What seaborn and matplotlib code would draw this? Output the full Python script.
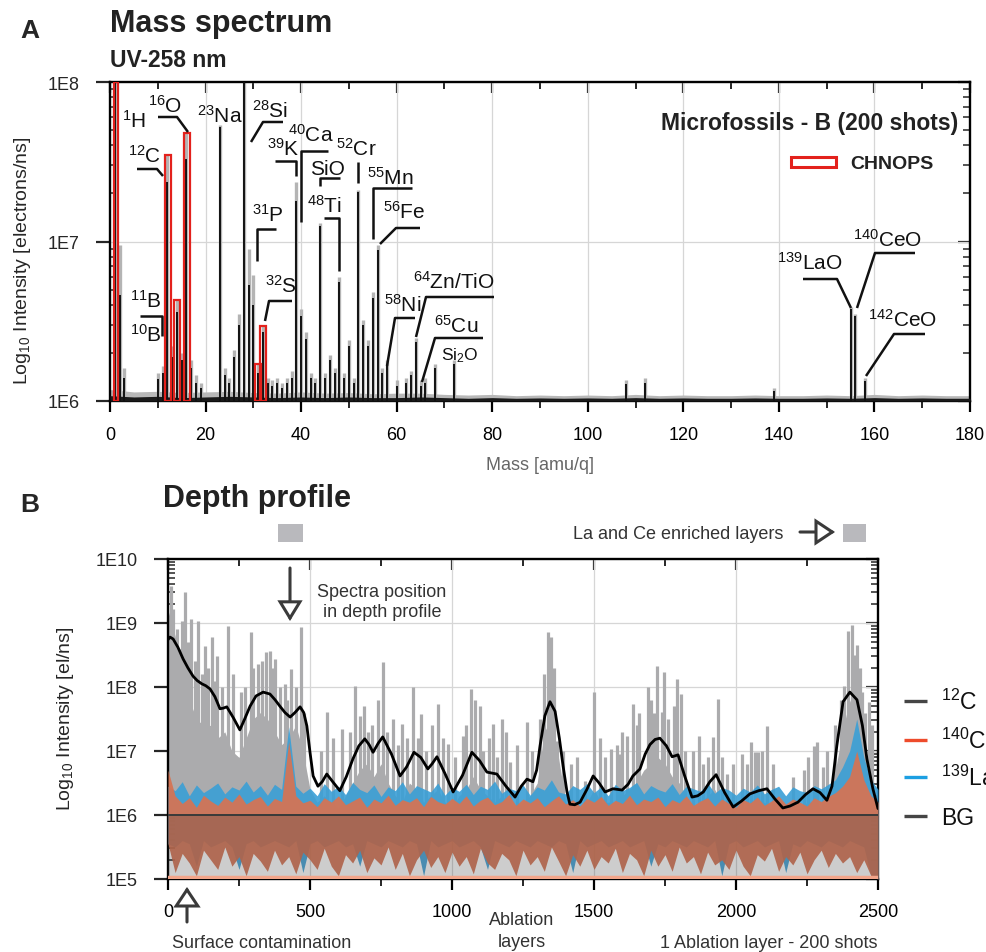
import numpy as np
import pandas as pd
import matplotlib
matplotlib.use("Agg")
import matplotlib.pyplot as plt
import seaborn as sns
from matplotlib.transforms import Affine2D
from matplotlib.lines import Line2D
from matplotlib.patches import Rectangle, FancyArrowPatch, ArrowStyle
from matplotlib.ticker import MultipleLocator, FixedLocator, LogLocator, NullFormatter

# ---------------- DATA : mass spectrum (panel A) ----------------
peak_mass = [1, 2, 3, 10, 11, 12, 13, 14, 15, 16, 17, 18, 19, 23, 24, 25, 26, 27, 28, 29,
             30, 31, 32, 33, 34, 35, 36, 37, 38, 39, 40, 41, 42, 43, 44, 45, 46, 47, 48, 49,
             50, 51, 52, 53, 54, 55, 56, 57, 58, 60, 62, 63, 64, 65, 66, 68, 72, 108, 112, 139,
             155, 156, 158]
peak_black = [1.2e8, 4.6e6, 1.4e6, 1.38e6, 1.5e6, 2.35e7, 1.9e6, 3.6e6, 1.8e6, 3.3e7,
              1.6e6, 1.3e6, 1.2e6, 5.2e7, 1.45e6, 1.3e6, 1.9e6, 3.0e6, 1.2e8, 5.3e6,
              4.0e6, 1.5e6, 2.7e6, 1.3e6, 1.25e6, 1.3e6, 1.2e6, 1.3e6, 1.4e6, 1.8e7,
              3.4e6, 2.45e6, 1.4e6, 1.3e6, 1.25e7, 1.4e6, 1.8e6, 1.5e6, 5.6e6, 1.4e6,
              2.2e6, 1.3e6, 2.05e7, 3.0e6, 2.2e6, 4.4e6, 8.9e6, 1.5e6, 1.7e6, 1.25e6,
              1.3e6, 1.45e6, 2.35e6, 1.25e6, 1.3e6, 1.6e6, 1.7e6, 1.28e6, 1.3e6, 1.15e6,
              3.8e6, 3.4e6, 1.33e6]
peak_gray = [1.2e8, 9.5e6, 1.6e6, 1.5e6, 1.65e6, 3.5e7, 2.2e6, 4.3e6, 2.0e6, 4.8e7,
             1.8e6, 1.45e6, 1.3e6, 5.4e7, 1.6e6, 1.4e6, 2.1e6, 3.5e6, 1.2e8, 9.0e6,
             6.2e6, 1.7e6, 2.95e6, 1.4e6, 1.35e6, 1.4e6, 1.3e6, 1.4e6, 1.55e6, 2.35e7,
             3.8e6, 2.7e6, 1.5e6, 1.4e6, 1.3e7, 1.5e6, 1.95e6, 1.6e6, 6.0e6, 1.5e6,
             2.4e6, 1.4e6, 2.1e7, 3.2e6, 2.4e6, 4.8e6, 9.5e6, 1.6e6, 1.8e6, 1.35e6,
             1.4e6, 1.55e6, 2.5e6, 1.35e6, 1.4e6, 1.7e6, 1.8e6, 1.35e6, 1.4e6, 1.2e6,
             3.9e6, 3.5e6, 1.4e6]
chnops_mass = [1.2, 12.1, 14.0, 16.1, 31.0, 32.1]
chnops_top = [1.0e8, 3.5e7, 4.3e6, 4.8e7, 1.7e6, 2.95e6]
chnops_width = [0.9, 1.25, 1.25, 1.25, 1.25, 1.25]
baseline_mass = [0, 5, 10, 15, 20, 25, 30, 35, 40, 45, 50, 55, 60, 65, 70, 75, 80, 85, 90, 95,
                 100, 105, 110, 115, 120, 125, 130, 135, 140, 145, 150, 155, 160, 165, 170, 175, 180]
baseline_black = [1.08e6, 1.06e6, 1.07e6, 1.05e6, 1.06e6, 1.07e6, 1.06e6, 1.05e6, 1.06e6, 1.05e6,
                  1.06e6, 1.05e6, 1.05e6, 1.06e6, 1.05e6, 1.04e6, 1.05e6, 1.04e6, 1.045e6, 1.04e6,
                  1.045e6, 1.04e6, 1.05e6, 1.04e6, 1.045e6, 1.04e6, 1.04e6, 1.045e6, 1.04e6, 1.04e6,
                  1.045e6, 1.04e6, 1.05e6, 1.04e6, 1.045e6, 1.04e6, 1.04e6]
baseline_gray = [1.18e6, 1.14e6, 1.15e6, 1.13e6, 1.14e6, 1.15e6, 1.13e6, 1.12e6, 1.14e6, 1.12e6,
                 1.13e6, 1.11e6, 1.12e6, 1.12e6, 1.1e6, 1.09e6, 1.1e6, 1.08e6, 1.09e6, 1.08e6,
                 1.09e6, 1.08e6, 1.1e6, 1.08e6, 1.09e6, 1.08e6, 1.08e6, 1.09e6, 1.08e6, 1.08e6,
                 1.09e6, 1.08e6, 1.1e6, 1.08e6, 1.09e6, 1.08e6, 1.08e6]

# ---------------- DATA : depth profile (panel B) ----------------
layer_grid = list(range(0, 2501, 25))
c12_base_log = [9.2, 8.8, 8.2, 7.8, 7.5, 7.4, 7.4, 7.2, 7.3, 7.0, 6.9, 7.2, 7.5, 7.6, 7.5, 7.3, 7.1, 7.2, 7.4, 7.0,
                6.4, 6.2, 6.3, 6.2, 6.1, 6.3, 6.5, 6.7, 6.8, 6.6, 6.8, 6.5, 6.3, 6.2, 6.5, 6.4, 6.2, 6.3, 6.4, 6.2,
                6.1, 6.3, 6.4, 6.6, 6.4, 6.3, 6.2, 6.3, 6.2, 6.1, 6.2, 6.3, 6.5, 7.3, 7.5, 6.9, 6.2, 6.1, 6.1, 6.2,
                6.4, 6.2, 6.2, 6.2, 6.3, 6.4, 6.5, 6.7, 6.8, 6.9, 6.8, 6.6, 6.5, 6.3, 6.1, 6.2, 6.3, 6.4, 6.2, 6.0,
                6.0, 6.1, 6.2, 6.2, 6.2, 6.1, 6.0, 6.0, 6.1, 6.1, 6.2, 6.2, 6.1, 6.2, 6.7, 7.3, 7.8, 7.5, 6.9, 6.4,
                6.1]
ce_top_log = [6.70, 6.30, 6.18, 6.27, 6.12, 6.31, 6.22, 6.15, 6.28, 6.20, 6.33, 6.17, 6.24, 6.29, 6.14, 6.26, 6.21, 7.15, 6.30, 6.19,
              6.23, 6.13, 6.27, 6.20, 6.30, 6.16, 6.22, 6.28, 6.12, 6.25, 6.19, 6.31, 6.15, 6.24, 6.20, 6.27, 6.13, 6.29, 6.21, 6.17,
              6.26, 6.18, 6.30, 6.14, 6.23, 6.28, 6.16, 6.21, 6.32, 6.15, 6.25, 6.19, 6.27, 6.13, 6.22, 6.30, 6.17, 6.24, 6.14, 6.26,
              6.20, 6.29, 6.15, 6.23, 6.18, 6.31, 6.16, 6.25, 6.21, 6.28, 6.13, 6.24, 6.19, 6.30, 6.15, 6.22, 6.27, 6.14, 6.25, 6.18,
              6.12, 6.24, 6.19, 6.28, 6.15, 6.22, 6.30, 6.17, 6.25, 6.20, 6.14, 6.27, 6.21, 6.29, 6.35, 6.45, 6.60, 7.00, 6.55, 6.30,
              6.20]
ce_bottom_log = [5.55, 5.10, 5.40, 5.25, 5.05, 5.45, 5.30, 5.15, 5.50, 5.20, 5.35, 5.05, 5.40, 5.28, 5.12, 5.45, 5.22, 5.35, 5.08, 5.42,
                 5.30, 5.15, 5.48, 5.20, 5.05, 5.38, 5.25, 5.45, 5.10, 5.33, 5.22, 5.50, 5.15, 5.40, 5.05, 5.30, 5.45, 5.18, 5.35, 5.10,
                 5.42, 5.20, 5.35, 5.08, 5.48, 5.25, 5.15, 5.40, 5.30, 5.05, 5.45, 5.22, 5.35, 5.12, 5.50, 5.28, 5.05, 5.38, 5.20, 5.45,
                 5.15, 5.35, 5.25, 5.48, 5.10, 5.40, 5.30, 5.05, 5.45, 5.20, 5.38, 5.12, 5.50, 5.25, 5.35, 5.08, 5.42, 5.22, 5.30, 5.15,
                 5.45, 5.20, 5.05, 5.38, 5.28, 5.48, 5.12, 5.35, 5.22, 5.42, 5.08, 5.30, 5.45, 5.18, 5.40, 5.25, 5.35, 5.10, 5.30, 5.05,
                 5.00]
la_top_log = [6.45, 6.38, 6.52, 6.30, 6.47, 6.35, 6.42, 6.50, 6.33, 6.44, 6.39, 6.53, 6.36, 6.46, 6.31, 6.48, 6.40, 7.38, 6.45, 6.34,
              6.42, 6.30, 6.49, 6.37, 6.45, 6.32, 6.51, 6.40, 6.35, 6.47, 6.29, 6.44, 6.38, 6.52, 6.33, 6.46, 6.41, 6.36, 6.50, 6.31,
              6.43, 6.37, 6.48, 6.32, 6.45, 6.40, 6.53, 6.34, 6.42, 6.38, 6.47, 6.31, 6.44, 6.39, 6.55, 6.36, 6.33, 6.46, 6.40, 6.49,
              6.35, 6.44, 6.30, 6.48, 6.38, 6.43, 6.51, 6.33, 6.46, 6.40, 6.36, 6.49, 6.32, 6.45, 6.41, 6.37, 6.50, 6.34, 6.43, 6.39,
              6.31, 6.42, 6.36, 6.47, 6.33, 6.40, 6.45, 6.30, 6.44, 6.38, 6.35, 6.46, 6.41, 6.48, 6.55, 6.75, 7.00, 7.50, 6.90, 6.55,
              6.40]
la_bottom_log = [5.55, 5.50, 5.60, 5.55, 5.20, 5.60, 5.50, 5.55, 5.60, 5.50, 5.15, 5.55, 5.60, 5.50, 5.55, 5.60, 5.55, 5.50, 5.60, 5.10,
                 5.55, 5.60, 5.50, 5.55, 5.60, 5.50, 5.55, 5.20, 5.60, 5.55, 5.50, 5.60, 5.55, 5.50, 5.60, 5.55, 5.05, 5.60, 5.50, 5.55,
                 5.60, 5.50, 5.55, 5.60, 5.50, 5.15, 5.60, 5.55, 5.50, 5.60, 5.55, 5.50, 5.60, 5.55, 5.50, 5.60, 5.55, 5.10, 5.60, 5.50,
                 5.55, 5.60, 5.50, 5.55, 5.60, 5.50, 5.55, 5.60, 5.20, 5.55, 5.50, 5.60, 5.55, 5.50, 5.60, 5.55, 5.50, 5.60, 5.05, 5.55,
                 5.60, 5.50, 5.55, 5.60, 5.50, 5.55, 5.60, 5.10, 5.55, 5.50, 5.60, 5.55, 5.50, 5.60, 5.55, 5.50, 5.60, 5.55, 5.50, 5.05,
                 5.00]
spike_layer = [11, 18, 30, 40, 49, 60, 70, 81, 95, 106, 120, 130, 140, 155, 165, 173, 190, 211, 230, 257,
               270, 292, 300, 317, 330, 345, 359, 365, 377, 395, 412, 420, 433, 450, 468, 480, 540, 559, 580, 612,
               640, 658, 676, 690, 704, 720, 740, 757, 770, 792, 810, 824, 840, 862, 880, 890, 910, 930, 951, 970,
               986, 1010, 1039, 1050, 1067, 1080, 1099, 1110, 1130, 1144, 1160, 1176, 1190, 1204, 1230, 1264, 1280, 1310, 1325, 1338,
               1348, 1360, 1370, 1390, 1420, 1440, 1468, 1500, 1520, 1540, 1560, 1580, 1592, 1600, 1616, 1637, 1650, 1660, 1690, 1700,
               1710, 1722, 1739, 1747, 1760, 1780, 1792, 1806, 1820, 1850, 1870, 1884, 1900, 1919, 1937, 1950, 1968, 1990, 2021, 2040,
               2053, 2067, 2078, 2090, 2109, 2130, 2200, 2240, 2254, 2275, 2285, 2306, 2320, 2350, 2370, 2380, 2394, 2408, 2415, 2426,
               2435, 2444, 2455, 2468, 2480]
spike_log = [9.58, 9.22, 8.9, 8.6, 9.03, 9.48, 8.7, 9.06, 8.4, 9.03, 8.2, 8.64, 8.3, 8.78, 8.1, 8.48, 8.0, 8.95, 8.2, 7.92,
             8.0, 8.86, 8.3, 8.36, 8.4, 8.55, 8.56, 8.3, 8.44, 8.0, 8.05, 7.8, 8.28, 8.0, 8.94, 7.6, 7.0, 7.61, 7.2, 7.34,
             7.3, 8.02, 7.55, 7.7, 7.30, 7.4, 7.8, 8.39, 7.3, 7.5, 7.1, 7.42, 7.2, 8.0, 7.2, 7.58, 7.0, 7.4, 7.73, 7.2,
             7.11, 6.9, 7.23, 7.4, 7.97, 7.8, 7.70, 7.0, 7.2, 7.42, 6.9, 7.50, 7.3, 6.83, 7.1, 7.45, 7.0, 7.5, 8.2, 8.86,
             8.78, 8.3, 7.16, 7.0, 6.8, 6.9, 6.53, 7.92, 7.2, 6.9, 7.03, 7.1, 6.95, 7.3, 7.23, 7.73, 7.4, 7.6, 8.0, 7.8,
             7.6, 8.33, 7.61, 8.23, 7.5, 7.7, 8.12, 7.89, 7.0, 7.0, 7.23, 6.80, 6.9, 7.22, 7.81, 6.9, 6.64, 6.8, 6.95, 6.8,
             7.14, 6.98, 6.98, 7.0, 7.39, 6.8, 6.6, 6.7, 6.91, 7.08, 7.14, 6.75, 7.0, 7.4, 7.8, 8.02, 8.88, 8.97, 8.5, 8.66,
             8.3, 7.92, 7.6, 7.77, 7.4]
smooth_layer = [0, 7, 18, 35, 53, 70, 88, 103, 119, 133, 148, 165, 183, 195, 207, 230, 253, 270, 289, 310,
                335, 359, 377, 394, 412, 430, 447, 465, 478, 489, 500, 511, 528, 543, 559, 580, 605, 628, 651, 672,
                693, 708, 722, 740, 756, 787, 817, 840, 866, 890, 915, 930, 947, 975, 1004, 1037, 1070, 1097, 1123, 1158,
                1190, 1222, 1244, 1264, 1285, 1298, 1310, 1327, 1345, 1363, 1378, 1391, 1405, 1415, 1432, 1451, 1475, 1497, 1518, 1539,
                1567, 1599, 1620, 1637, 1662, 1680, 1697, 1715, 1732, 1755, 1775, 1796, 1820, 1845, 1865, 1885, 1908, 1930, 1960, 1990,
                2020, 2049, 2080, 2109, 2137, 2165, 2190, 2218, 2245, 2271, 2296, 2320, 2338, 2355, 2377, 2401, 2426, 2445, 2461, 2482,
                2500]
smooth_log = [8.74, 8.78, 8.75, 8.62, 8.44, 8.30, 8.17, 8.10, 8.05, 8.02, 7.97, 7.85, 7.66, 7.67, 7.69, 7.52, 7.33, 7.50, 7.70, 7.86,
              7.92, 7.89, 7.80, 7.70, 7.60, 7.53, 7.60, 7.69, 7.60, 7.39, 6.98, 6.61, 6.45, 6.52, 6.64, 6.52, 6.38, 6.60, 6.875, 7.08,
              7.19, 7.10, 6.98, 7.12, 7.22, 6.95, 6.61, 6.75, 6.98, 6.90, 6.72, 6.80, 6.91, 6.65, 6.36, 6.62, 6.98, 6.85, 6.67, 6.64,
              6.45, 6.28, 6.45, 6.56, 6.52, 6.70, 7.08, 7.55, 7.77, 7.62, 7.20, 6.77, 6.36, 6.17, 6.16, 6.20, 6.40, 6.61, 6.50, 6.36,
              6.41, 6.39, 6.48, 6.61, 6.72, 6.95, 7.10, 7.18, 7.20, 7.08, 6.91, 6.94, 6.60, 6.28, 6.30, 6.36, 6.52, 6.63, 6.35, 6.125,
              6.22, 6.33, 6.38, 6.41, 6.25, 6.11, 6.14, 6.20, 6.32, 6.41, 6.35, 6.23, 6.45, 7.08, 7.77, 7.92, 7.80, 7.40, 6.875, 6.41,
              6.10]
legend_labels = [r'$^{12}$C', r'$^{140}$CeO', r'$^{139}$LaO', 'BG']
legend_colors = ['#454545', '#ee4b2b', '#1c9fe2', '#454545']

# ---------------- style ----------------
sns.set_theme(style="white")
plt.rcParams['font.family'] = ['Liberation Sans', 'DejaVu Sans']
plt.rcParams['mathtext.fontset'] = 'custom'
plt.rcParams['mathtext.rm'] = 'Liberation Sans'
plt.rcParams['mathtext.it'] = 'Liberation Sans:italic'
plt.rcParams['mathtext.bf'] = 'Liberation Sans:bold'

W, H = 987, 953
fig = plt.figure(figsize=(W / 100, H / 100), dpi=100)
fig.patch.set_facecolor('white')
pxT = Affine2D().scale(1.0 / W, -1.0 / H).translate(0, 1) + fig.transFigure


def ftext(x, y, s, **kw):
    fig.text(x, y, s, transform=pxT, **kw)


def fline(pts, **kw):
    xs, ys = zip(*pts)
    fig.add_artist(Line2D(xs, ys, transform=pxT, **kw))


def farrow(a, b, hw=0.5):
    fig.add_artist(FancyArrowPatch(posA=a, posB=b, transform=pxT,
                                   arrowstyle=ArrowStyle('-|>', head_length=0.9, head_width=hw),
                                   mutation_scale=13, lw=2.2, ec='#3a3a3a', fc='white',
                                   shrinkA=0, shrinkB=0, joinstyle='miter'))


def frame(ax, xmaj, xmin):
    for s in ax.spines.values():
        s.set_visible(True)
        s.set_linewidth(1.7)
        s.set_color('black')
    ax.set_axisbelow(True)
    ax.tick_params(axis='x', which='major', direction='out', length=8, width=1.6,
                   labelsize=13, pad=12, bottom=True, colors='black')
    ax.tick_params(axis='x', which='minor', direction='out', length=5, width=1.4, bottom=True)
    ax.tick_params(axis='y', which='major', direction='out', length=10, width=1.6,
                   labelsize=13, pad=12, left=True)
    ax.tick_params(axis='y', which='minor', direction='in', length=5, width=1.1, left=True)
    ax.yaxis.set_minor_locator(LogLocator(base=10, subs=np.arange(2, 10)))
    ax.yaxis.set_minor_formatter(NullFormatter())
    top = ax.secondary_xaxis('top')
    top.xaxis.set_major_locator(FixedLocator(xmaj))
    top.xaxis.set_minor_locator(FixedLocator(xmin))
    top.tick_params(axis='x', which='major', direction='in', length=8, width=1.6, labeltop=False)
    top.tick_params(axis='x', which='minor', direction='in', length=5, width=1.4, labeltop=False)
    right = ax.secondary_yaxis('right')
    right.yaxis.set_major_locator(LogLocator(base=10))
    right.yaxis.set_minor_locator(LogLocator(base=10, subs=np.arange(2, 10)))
    right.tick_params(axis='y', which='major', direction='in', length=9, width=1.6, labelright=False)
    right.tick_params(axis='y', which='minor', direction='in', length=5, width=1.1, labelright=False)
    right.yaxis.set_minor_formatter(NullFormatter())
    right.yaxis.set_major_formatter(NullFormatter())


# ================= Panel A =================
ax1 = fig.add_axes([110 / W, 1 - 402 / H, 860 / W, 319 / H])
ax1.set_yscale('log')
ax1.set_xlim(0, 180)
ax1.set_ylim(1e6, 1e8)
ax1.grid(True, which='major', color='#d6d6d6', lw=0.9)

ax1.fill_between(baseline_mass, 1e6, baseline_gray, color='#b8b8b8', lw=0, zorder=2)
ax1.fill_between(baseline_mass, 1e6, baseline_black, color='#1a1a1a', lw=0, zorder=3)
ax1.vlines(peak_mass, 1e6, peak_gray, color='#b4b4b4', lw=2.4, zorder=2)
ax1.vlines(peak_mass, 1e6, peak_black, color='#111111', lw=1.4, zorder=3)
chn_df = pd.DataFrame({'mass': chnops_mass, 'top': chnops_top, 'w': chnops_width})
ax1.bar(chn_df['mass'], chn_df['top'] - 1e6, bottom=1e6, width=chn_df['w'], fill=False,
        edgecolor='#e3211c', lw=1.6, zorder=4)

ax1.set_xticks(range(0, 181, 20))
ax1.set_xticklabels([str(v) for v in range(0, 181, 20)])
ax1.xaxis.set_minor_locator(MultipleLocator(10))
ax1.set_yticks([1e6, 1e7, 1e8])
frame(ax1, list(range(0, 181, 20)), list(range(10, 180, 20)))
ax1.set_yticklabels(['1E6', '1E7', '1E8'])
ax1.tick_params(axis='x', which='major', pad=10)
ax1.set_xlabel('')
ax1.set_ylabel('')

# panel A text
ftext(20, 38, 'A', fontsize=19, fontweight='bold', va='baseline')
ftext(110, 32, 'Mass spectrum', fontsize=22, fontweight='bold', color='#222222', va='baseline')
ftext(110, 67, 'UV-258 nm', fontsize=16.5, fontweight='bold', color='#222222', va='baseline')
ftext(23, 261, r'Log$_{10}$ Intensity [electrons/ns]', fontsize=14, rotation=90, ha='center', va='center')
ftext(540, 466, 'Mass [amu/q]', fontsize=13, color='#666666', ha='center', va='center')
ftext(958, 130, 'Microfossils - B (200 shots)', fontsize=16.5, fontweight='bold', color='#222222',
      ha='right', va='baseline')
fig.add_artist(Rectangle((791, 158), 45, 10, transform=pxT, fc='white', ec='#e3211c', lw=2.2))
ftext(850, 169, 'CHNOPS', fontsize=14, fontweight='bold', color='#222222', va='baseline')

elem_labels = [
    (r'$^{1}$H', 122, 128), (r'$^{16}$O', 148, 113), (r'$^{12}$C', 128, 163),
    (r'$^{23}$Na', 197, 123), (r'$^{28}$Si', 252, 118), (r'$^{40}$Ca', 288, 142),
    (r'$^{39}$K', 267, 156), ('SiO', 310, 175), (r'$^{48}$Ti', 307, 213),
    (r'$^{52}$Cr', 336, 156), (r'$^{55}$Mn', 367, 185), (r'$^{56}$Fe', 383, 219),
    (r'$^{64}$Zn/TiO', 413, 289), (r'$^{58}$Ni', 384, 312), (r'$^{65}$Cu', 434, 333),
    (r'$^{11}$B', 130, 308), (r'$^{10}$B', 130, 342), (r'$^{31}$P', 252, 222),
    (r'$^{32}$S', 265, 293), (r'$^{139}$LaO', 777, 270), (r'$^{140}$CeO', 853, 247),
    (r'$^{142}$CeO', 868, 327)]
for s, x, y in elem_labels:
    ftext(x, y, s, fontsize=15, color='#111111', va='baseline')
ftext(441, 360, r'Si$_2$O', fontsize=12.5, color='#111111', va='baseline')

leaders = [
    [(158, 118), (177, 118), (188, 133)], [(137, 170), (157, 170), (163, 177)],
    [(283, 123), (263, 123), (251, 143)], [(328, 152), (301, 152), (301, 223)],
    [(275, 162), (296, 162), (296, 177)], [(320, 187), (320, 179), (340, 179)],
    [(324, 219), (339, 219), (339, 272)], [(358, 163), (358, 184)],
    [(412, 189), (373, 189), (373, 240)], [(420, 229), (396, 229), (380, 245)],
    [(494, 298), (426, 298), (416, 338)], [(415, 319), (395, 319), (387, 367)],
    [(483, 339), (435, 339), (422, 383)], [(140, 317), (162, 317), (162, 337)],
    [(276, 230), (257, 230), (257, 262)], [(292, 302), (269, 302), (265, 322)],
    [(803, 280), (837, 280), (851, 309)], [(915, 254), (875, 254), (857, 309)],
    [(925, 335), (894, 335), (866, 377)]]
for pts in leaders:
    fline(pts, color='#111111', lw=1.8, solid_capstyle='butt')

# ================= Panel B =================
ax2 = fig.add_axes([168 / W, 1 - 880 / H, 710 / W, 320 / H])
ax2.set_yscale('log')
ax2.set_xlim(0, 2500)
ax2.set_ylim(1e5, 1e10)
ax2.grid(True, which='major', color='#d6d6d6', lw=0.9)

lg = np.array(layer_grid)
ax2.fill_between(lg, 1e6, 10 ** np.array(c12_base_log), color='#ababad', lw=0, zorder=2)
ax2.vlines(spike_layer, 1e6, 10 ** np.array(spike_log), color='#ababad', lw=2.3, zorder=2)
ax2.fill_between(lg, 10 ** np.array(la_bottom_log), 10 ** np.array(la_top_log),
                 color='#3a9fd6', alpha=0.9, lw=0, zorder=3)
ax2.fill_between(lg, 10 ** np.array(ce_bottom_log), 10 ** np.array(ce_top_log),
                 color='#d77352', alpha=0.92, lw=0, zorder=4)
ax2.fill_between([0, 2500], 1e5, 1e6, color='#3a3a3a', alpha=0.25, lw=0, zorder=5)
ax2.axhline(1.08e5, color='#f2a58a', lw=2.5, zorder=5)
ax2.axhline(1e6, color='#3a3a3a', lw=1.4, zorder=6)
smooth_df = pd.DataFrame({'layer': smooth_layer, 'I': 10 ** np.array(smooth_log)})
sns.lineplot(data=smooth_df, x='layer', y='I', ax=ax2, color='black', lw=2.0, sort=False,
             estimator=None, zorder=7)
ax2.lines[-1].set_solid_joinstyle('round')

ax2.set_xticks(range(0, 2501, 500))
ax2.set_xticklabels([str(v) for v in range(0, 2501, 500)])
ax2.xaxis.set_minor_locator(FixedLocator(list(range(250, 2500, 500))))
ax2.set_yticks([1e5, 1e6, 1e7, 1e8, 1e9, 1e10])
frame(ax2, list(range(0, 2501, 500)), list(range(250, 2500, 500)))
ax2.set_yticklabels(['1E5', '1E6', '1E7', '1E8', '1E9', '1E10'])
ax2.tick_params(axis='x', which='major', pad=9)
ax2.set_xlabel('')
ax2.set_ylabel('')

# panel B text
ftext(20, 512, 'B', fontsize=19, fontweight='bold', va='baseline')
ftext(163, 507, 'Depth profile', fontsize=22, fontweight='bold', color='#222222', va='baseline')
ftext(65, 719, r'Log$_{10}$ Intensity [el/ns]', fontsize=14, rotation=90, ha='center', va='center')
fig.add_artist(Rectangle((278, 525), 25, 18, transform=pxT, fc='#b9b9bd', ec='none'))
fig.add_artist(Rectangle((843, 525), 23, 18, transform=pxT, fc='#b9b9bd', ec='none'))
ftext(573, 539, 'La and Ce enriched layers', fontsize=13, color='#333333', va='baseline')
farrow((800, 533), (835, 533), hw=0.6)
ftext(382, 597, 'Spectra position', fontsize=13, color='#333333', ha='center', va='baseline')
ftext(382, 617, 'in depth profile', fontsize=13, color='#333333', ha='center', va='baseline')
farrow((290, 569), (290, 622), hw=0.55)
farrow((187, 923), (187, 888), hw=0.6)
ftext(172, 948, 'Surface contamination', fontsize=13, color='#333333', va='baseline')
ftext(522, 925, 'Ablation', fontsize=13, color='#333333', ha='center', va='baseline')
ftext(522, 947, 'layers', fontsize=13, color='#333333', ha='center', va='baseline')
ftext(877, 948, '1 Ablation layer - 200 shots', fontsize=13, color='#333333', ha='right', va='baseline')

for i, (lab, col) in enumerate(zip(legend_labels, legend_colors)):
    yy = [702, 741, 778, 817][i]
    fline([(904, yy), (927, yy)], color=col, lw=2.4, solid_capstyle='butt')
    ftext(941, yy + 8, lab, fontsize=16.5, color='#111111', va='baseline')

fig.savefig('out.png', dpi=100, facecolor='white')
